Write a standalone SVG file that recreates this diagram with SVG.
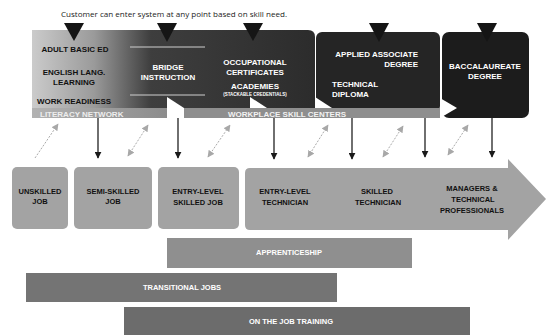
<svg xmlns="http://www.w3.org/2000/svg" width="546" height="335" viewBox="0 0 546 335">
<defs>
<linearGradient id="band" x1="32" y1="0" x2="315" y2="0" gradientUnits="userSpaceOnUse">
<stop offset="0" stop-color="#cbcbcb"/>
<stop offset="0.22" stop-color="#9a9a9a"/>
<stop offset="0.42" stop-color="#3e3e3e"/>
<stop offset="1" stop-color="#2c2c2c"/>
</linearGradient>
<linearGradient id="lit" x1="32" y1="0" x2="167" y2="0" gradientUnits="userSpaceOnUse">
<stop offset="0" stop-color="#b2b2b2"/>
<stop offset="1" stop-color="#8c8c8c"/>
</linearGradient>
<marker id="gh" viewBox="0 0 10 10" refX="9" refY="5" markerWidth="7" markerHeight="7" orient="auto-start-reverse" markerUnits="userSpaceOnUse">
<path d="M0,0 L10,5 L0,10 Z" fill="#a8a8a8"/>
</marker>
<marker id="bh" viewBox="0 0 10 10" refX="9" refY="5" markerWidth="7" markerHeight="7" orient="auto" markerUnits="userSpaceOnUse">
<path d="M0,0 L10,5 L0,10 Z" fill="#1a1a1a"/>
</marker>
</defs>
<style>
.b{font-family:"Liberation Sans",Arial,sans-serif;font-weight:bold;}
.k{fill:#111;}
.w{fill:#fff;}
.m{text-anchor:middle;}
.s8{font-size:8px;}
.s7{font-size:7.5px;}
.dn{fill:#151515;}
.job{fill:#a3a3a3;}
.da{stroke:#aaa;stroke-width:1;stroke-dasharray:2 1.5;fill:none;marker-start:url(#gh);marker-end:url(#gh);}
.ar{stroke:#222;stroke-width:1.3;fill:none;marker-end:url(#bh);}
</style>
<rect width="546" height="335" fill="#fff"/>

<text x="61" y="17" font-family="'Open Sans','Liberation Sans',sans-serif" font-size="8" fill="#222" textLength="226" lengthAdjust="spacingAndGlyphs">Customer can enter system at any point based on skill need.</text>

<g id="entry-band">
<path d="M32,30 H308 Q315,30 315,37 V108 H32 Z" fill="url(#band)"/>
<line x1="130" y1="47" x2="205" y2="47" stroke="#cfcfcf" stroke-width="1"/>
<line x1="130" y1="95" x2="205" y2="95" stroke="#cfcfcf" stroke-width="1"/>
<text class="b k m s8" x="75" y="52">ADULT BASIC ED</text>
<text class="b k m s8" x="74" y="75">ENGLISH LANG.</text>
<text class="b k m s8" x="74" y="85">LEARNING</text>
<text class="b k m s8" x="74" y="104">WORK READINESS</text>
</g>
<g id="bridge">
<text class="b w m s8" x="168" y="70">BRIDGE</text>
<text class="b w m s8" x="168" y="80">INSTRUCTION</text>
</g>
<g id="occupational">
<text class="b w m s8" x="255" y="65">OCCUPATIONAL</text>
<text class="b w m s8" x="255" y="75">CERTIFICATES</text>
<text class="b w m s8" x="255" y="89">ACADEMIES</text>
<text class="b w m" x="255" y="95.5" font-size="4.5">(STACKABLE CREDENTIALS)</text>
</g>
<g id="applied">
<rect x="316" y="32" width="124" height="80" rx="6" fill="#252525"/>
<text class="b w s8" x="418" y="57" text-anchor="end">APPLIED ASSOCIATE</text>
<text class="b w s8" x="418" y="67" text-anchor="end">DEGREE</text>
<text class="b w s8" x="332" y="87">TECHNICAL</text>
<text class="b w s8" x="332" y="97">DIPLOMA</text>
</g>
<g id="baccalaureate">
<rect x="442" y="32" width="87" height="86" rx="7" fill="#1c1c1c"/>
<text class="b w m s8" x="485" y="69">BACCALAUREATE</text>
<text class="b w m s8" x="485" y="79">DEGREE</text>
</g>
<g id="literacy-network">
<rect x="32" y="108" width="135" height="10" fill="url(#lit)"/>
<text class="b" x="40" y="116.5" font-size="8" fill="#eee">LITERACY NETWORK</text>
</g>
<g id="workplace-skill-centers">
<rect x="184" y="108" width="256" height="10" fill="#8e8e8e"/>
<text class="b m" x="287" y="116.5" font-size="8" fill="#f2f2f2">WORKPLACE SKILL CENTERS</text>
</g>
<g id="pointers" fill="#fff">
<polygon points="167,97 167,119 184,108"/>
<polygon points="250,97 250,108 267,108"/>
<polygon points="315,97 315,108 332,108"/>
<polygon points="440,98 440,118 457,108"/>
</g>
<g id="entry-markers">
<polygon class="dn" points="64,23 84,23 74,41"/>
<polygon class="dn" points="157,23 177,23 167,42"/>
<polygon class="dn" points="243,23 263,23 253,41"/>
<polygon class="dn" points="369,23 389,23 379,42"/>
<polygon class="dn" points="477,23 497,23 487,42"/>
</g>

<g id="connectors">
<line class="ar" x1="98" y1="118" x2="98" y2="158"/>
<line class="ar" x1="178" y1="118" x2="178" y2="158"/>
<line class="ar" x1="274" y1="118" x2="274" y2="159"/>
<line class="ar" x1="352" y1="118" x2="352" y2="159"/>
<line class="ar" x1="425" y1="118" x2="425" y2="157"/>
<line class="ar" x1="492" y1="118" x2="492" y2="157"/>
<line x1="35" y1="158" x2="58" y2="124" stroke="#aaa" stroke-width="1" stroke-dasharray="2 1.5" marker-end="url(#gh)"/>
<line class="da" x1="128" y1="156" x2="148" y2="125"/>
<line class="da" x1="208" y1="157" x2="230" y2="125"/>
<line class="da" x1="308" y1="157" x2="328" y2="125"/>
<line class="da" x1="383" y1="157" x2="403" y2="126"/>
<line class="da" x1="448" y1="155" x2="468" y2="125"/>
</g>

<g id="unskilled-job">
<rect class="job" x="12" y="167" width="56" height="62" rx="5"/>
<text class="b k m s7" x="40" y="194">UNSKILLED</text>
<text class="b k m s7" x="40" y="204">JOB</text>
</g>
<g id="semi-skilled-job">
<rect class="job" x="74" y="167" width="78" height="62" rx="5"/>
<text class="b k m s7" x="113" y="194">SEMI-SKILLED</text>
<text class="b k m s7" x="113" y="204">JOB</text>
</g>
<g id="entry-level-skilled-job">
<rect class="job" x="158" y="167" width="81" height="62" rx="5"/>
<text class="b k m s7" x="198" y="194">ENTRY-LEVEL</text>
<text class="b k m s7" x="198" y="205">SKILLED JOB</text>
</g>
<g id="career-arrow">
<path class="job" d="M250,168 H508 V159 L546,199 L508,240 V230 H250 Q245,230 245,225 V173 Q245,168 250,168 Z"/>
<text class="b k m s7" x="285" y="194">ENTRY-LEVEL</text>
<text class="b k m s7" x="285" y="205">TECHNICIAN</text>
<text class="b k m s7" x="377" y="194">SKILLED</text>
<text class="b k m s7" x="378" y="205">TECHNICIAN</text>
<text class="b k m s7" x="472" y="191">MANAGERS &amp;</text>
<text class="b k m s7" x="473" y="202">TECHNICAL</text>
<text class="b k m s7" x="472" y="213">PROFESSIONALS</text>
</g>

<g id="apprenticeship">
<rect x="167" y="238" width="245" height="30" fill="#8f8f8f"/>
<text class="b w m s7" x="289" y="255">APPRENTICESHIP</text>
</g>
<g id="transitional-jobs">
<rect x="26" y="273" width="311" height="29" fill="#747474"/>
<text class="b w m s7" x="182" y="290">TRANSITIONAL JOBS</text>
</g>
<g id="on-the-job-training">
<rect x="124" y="307" width="346" height="28" fill="#6c6c6c"/>
<text class="b w m s7" x="291" y="324">ON THE JOB TRAINING</text>
</g>
</svg>
